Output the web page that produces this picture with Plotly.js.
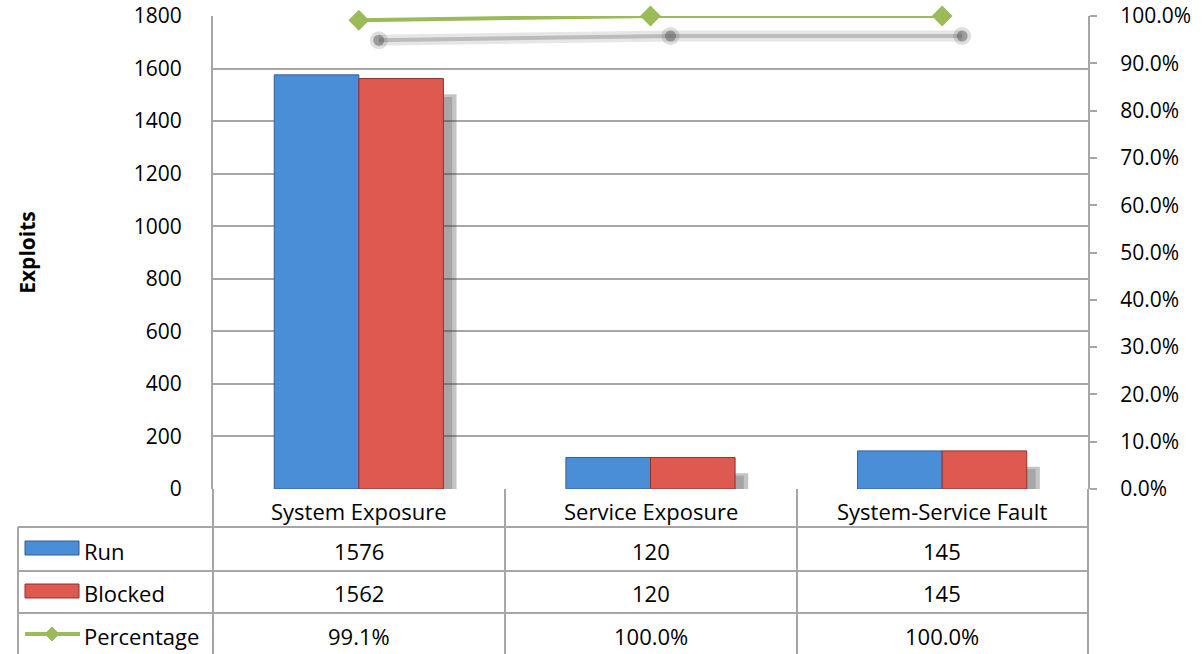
<!DOCTYPE html>
<html>
<head>
<meta charset="utf-8">
<script src="https://cdn.plot.ly/plotly-3.0.1.min.js"></script>
<style>html,body{margin:0;padding:0;background:#fff;}#chart{width:1203px;height:654px;}</style>
</head>
<body>
<div id="chart"></div>
<script>
const categories = ['System Exposure', 'Service Exposure', 'System-Service Fault'];
const runValues = [1576, 120, 145];
const blockedValues = [1562, 120, 145];
const percentageValues = [0.991, 1.0, 1.0];
const seriesNames = ['Run', 'Blocked', 'Percentage'];
const leftTicks = [0, 200, 400, 600, 800, 1000, 1200, 1400, 1600, 1800];

const FONT = 'Open Sans, Lato, sans-serif';
const GRID = '#A6A6A6';
const BLUE = '#4A8ED8';
const RED = '#DE5950';
const GREEN = '#9BBB59';

// plot geometry helpers (paper fractions)
const plotL = 213, plotR = 1088, plotT = 16, plotB = 489;
const W = plotR - plotL, H = plotB - plotT;
const px = x => (x - plotL) / W;
const py = y => (plotB - y) / H;

const traces = [
  // bar shadow (behind bars)
  {type: 'bar', x: categories, y: blockedValues, base: -70, offset: 0.03, width: 0.29,
   marker: {color: 'rgba(60,60,60,0.22)', line: {width: 0}}, hoverinfo: 'skip', showlegend: false},
  {type: 'bar', x: categories, y: blockedValues, base: -60, offset: 0.045, width: 0.29,
   marker: {color: 'rgba(60,60,60,0.30)', line: {width: 0}}, hoverinfo: 'skip', showlegend: false},
  {type: 'bar', name: seriesNames[0], x: categories, y: runValues, offset: -0.29, width: 0.29,
   marker: {color: BLUE, line: {color: '#2E5F96', width: 1}}},
  {type: 'bar', name: seriesNames[1], x: categories, y: blockedValues, offset: 0, width: 0.29,
   marker: {color: RED, line: {color: '#8E332E', width: 1}}},
  // line shadow (soft)
  {type: 'scatter', mode: 'lines+markers', x: categories, y: percentageValues, xaxis: 'x2', yaxis: 'y2',
   line: {color: 'rgba(90,90,90,0.15)', width: 11}, marker: {color: 'rgba(90,90,90,0.2)', size: 18},
   hoverinfo: 'skip', showlegend: false},
  {type: 'scatter', mode: 'lines+markers', x: categories, y: percentageValues, xaxis: 'x2', yaxis: 'y2',
   line: {color: 'rgba(110,110,110,0.35)', width: 4}, marker: {color: 'rgba(90,90,90,0.5)', size: 11},
   hoverinfo: 'skip', showlegend: false},
  {type: 'scatter', mode: 'lines+markers', name: seriesNames[2], x: categories, y: percentageValues, yaxis: 'y3',
   line: {color: GREEN, width: 4}, marker: {color: GREEN, symbol: 'diamond', size: 16}, cliponaxis: false}
];

const shapes = [];
const line = (x0, y0, x1, y1) => shapes.push({type: 'line', xref: 'paper', yref: 'paper',
  x0: px(x0), y0: py(y0), x1: px(x1), y1: py(y1), line: {color: GRID, width: 2}, layer: 'above'});
// table grid
const rowLines = [527, 571, 613];
rowLines.forEach(y => line(18, y, plotR, y));
line(18, 527, 18, 660);
line(plotL, plotB, plotL, 660);
line(plotR, plotB, plotR, 660);
[505, 797].forEach(x => line(x, plotB, x, 660));

// legend keys in table
shapes.push({type: 'rect', xref: 'paper', yref: 'paper', x0: px(25), x1: px(79), y0: py(541), y1: py(555),
  fillcolor: BLUE, line: {color: '#2E5F96', width: 1}});
shapes.push({type: 'rect', xref: 'paper', yref: 'paper', x0: px(25), x1: px(79), y0: py(584), y1: py(598),
  fillcolor: RED, line: {color: '#8E332E', width: 1}});
shapes.push({type: 'line', xref: 'paper', yref: 'paper', x0: px(25), x1: px(80), y0: py(634), y1: py(634),
  line: {color: GREEN, width: 4}});
const dx = 7 / W, dy = 7 / H, cx = px(52), cy = py(634);
shapes.push({type: 'path', xref: 'paper', yref: 'paper',
  path: `M ${cx - dx} ${cy} L ${cx} ${cy + dy} L ${cx + dx} ${cy} L ${cx} ${cy - dy} Z`,
  fillcolor: GREEN, line: {color: GREEN, width: 1}});

const annotations = [];
const tf = {family: FONT, size: 22, color: '#000'};
categories.forEach((c, i) => {
  annotations.push({xref: 'x', yref: 'paper', x: c, y: py(511), text: c, showarrow: false, font: tf, xanchor: 'center', yanchor: 'middle'});
  annotations.push({xref: 'x', yref: 'paper', x: c, y: py(551), text: String(runValues[i]), showarrow: false, font: tf, yanchor: 'middle'});
  annotations.push({xref: 'x', yref: 'paper', x: c, y: py(593), text: String(blockedValues[i]), showarrow: false, font: tf, yanchor: 'middle'});
  annotations.push({xref: 'x', yref: 'paper', x: c, y: py(636), text: (percentageValues[i] * 100).toFixed(1) + '%', showarrow: false, font: tf, yanchor: 'middle'});
});
const rowY = [551, 593, 636];
seriesNames.forEach((n, i) => annotations.push({xref: 'paper', yref: 'paper', x: px(82), y: py(rowY[i]), text: n,
  showarrow: false, font: tf, xanchor: 'left', yanchor: 'middle'}));

const layout = {
  width: 1203, height: 654,
  margin: {l: plotL, r: 1203 - plotR, t: plotT, b: 654 - plotB, pad: 0},
  paper_bgcolor: '#fff', plot_bgcolor: '#fff',
  showlegend: false,
  font: {family: FONT, size: 21, color: '#000'},
  xaxis: {type: 'category', range: [-0.5, 2.5], showticklabels: false, showgrid: false, zeroline: false,
          showline: false, ticks: ''},
  xaxis2: {type: 'category', overlaying: 'x', range: [-0.5 - 20 / 292, 2.5 - 20 / 292], visible: false},
  yaxis: {range: [0, 1800], tickvals: leftTicks, showgrid: true, gridcolor: GRID, gridwidth: 2,
          zeroline: false, showline: true, linecolor: GRID, linewidth: 2, ticks: '', ticklabelstandoff: 25,
          tickfont: {family: FONT, size: 21},
          title: {text: '<b>Exploits</b>', font: {family: FONT, size: 21}, standoff: 92}},
  yaxis2: {overlaying: 'y', range: [20 / H, 1 + 20 / H], visible: false},
  yaxis3: {overlaying: 'y', side: 'right', range: [0, 1], dtick: 0.1, tick0: 0, tickformat: '.1%',
           showgrid: false, zeroline: false, showline: true, linecolor: GRID, linewidth: 2,
           ticks: 'outside', ticklen: 7, tickcolor: GRID, tickwidth: 2, ticklabelstandoff: 19,
           tickfont: {family: FONT, size: 21}},
  shapes: shapes,
  annotations: annotations
};

Plotly.newPlot('chart', traces, layout, {displayModeBar: false, staticPlot: true});
</script>
</body>
</html>
